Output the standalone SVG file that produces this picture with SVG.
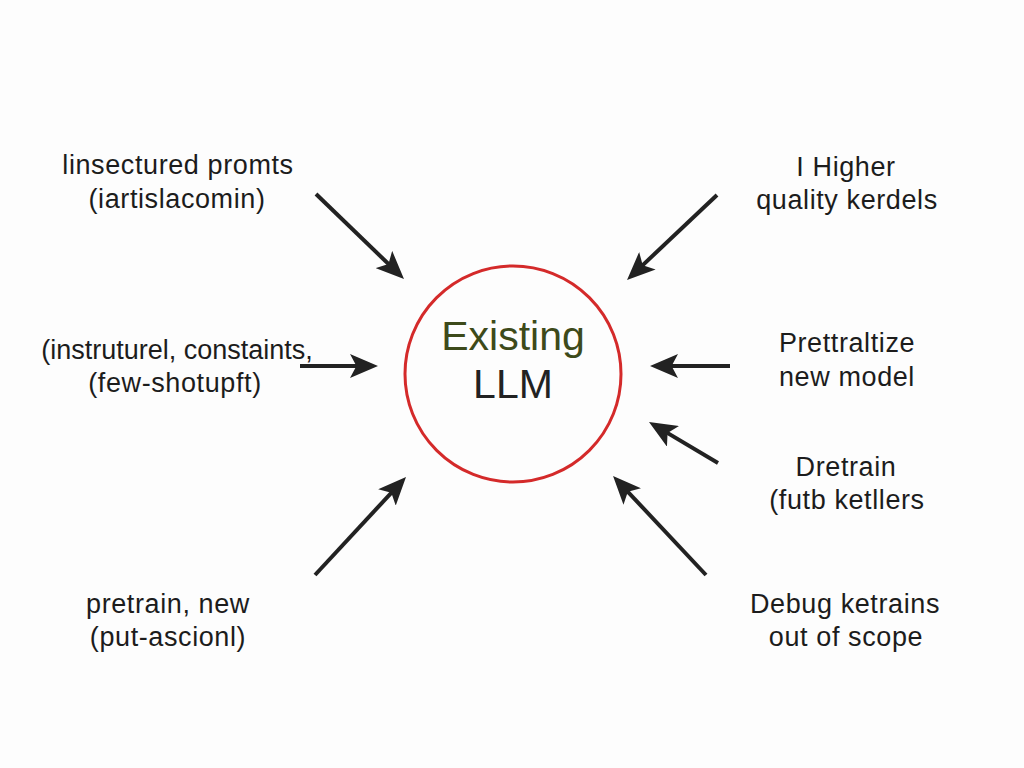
<svg xmlns="http://www.w3.org/2000/svg" width="1024" height="768" viewBox="0 0 1024 768">
<style>
.lbl{font-family:"Liberation Sans",Arial,sans-serif;font-size:27px;letter-spacing:0.6px;fill:#1c1c1c;text-anchor:middle}
.tight{letter-spacing:0}
.ctr{font-family:"Liberation Sans",Arial,sans-serif;font-size:41px;text-anchor:middle}
.arr{stroke:#222;stroke-width:4;fill:none;marker-end:url(#ah)}
</style>
<defs>
<marker id="ah" viewBox="0 0 7 6" markerWidth="7" markerHeight="6" refX="4.5" refY="3" orient="auto" markerUnits="strokeWidth">
<path d="M0,0 L7,3 L0,6 L1.6,3 z" fill="#222"/>
</marker>
</defs>
<rect width="1024" height="768" fill="#fdfdfd"/>
<g id="llm">
<circle cx="513" cy="374" r="108" fill="none" stroke="#d42a2a" stroke-width="3"/>
<text class="ctr" x="513" y="350" fill="#3d4a1a">Existing</text>
<text class="ctr" x="513" y="398" fill="#222">LLM</text>
</g>
<g id="n-tl"><text class="lbl" x="178" y="174">linsectured promts</text><text class="lbl" x="177" y="208">(iartislacomin)</text></g>
<g id="n-tr"><text class="lbl" x="846" y="176">I Higher</text><text class="lbl" x="847" y="209">quality kerdels</text></g>
<g id="n-ml"><text class="lbl tight" x="177" y="359">(instruturel, constaints,</text><text class="lbl" x="175" y="392">(few-shotupft)</text></g>
<g id="n-mr"><text class="lbl" x="847" y="352">Prettraltize</text><text class="lbl" x="847" y="386">new model</text></g>
<g id="n-r2"><text class="lbl" x="846" y="476">Dretrain</text><text class="lbl" x="847" y="509">(futb ketllers</text></g>
<g id="n-bl"><text class="lbl" x="168" y="613">pretrain, new</text><text class="lbl" x="168" y="646">(put-ascionl)</text></g>
<g id="n-br"><text class="lbl" x="845" y="613">Debug ketrains</text><text class="lbl" x="846" y="646">out of scope</text></g>
<g id="connectors">
<line class="arr" x1="316" y1="194" x2="396.8" y2="272"/>
<line class="arr" x1="717" y1="195" x2="634.3" y2="273.1"/>
<line class="arr" x1="300" y1="366" x2="368" y2="366"/>
<line class="arr" x1="730" y1="366" x2="660" y2="366"/>
<line class="arr" x1="718" y1="463" x2="657.6" y2="427.1"/>
<line class="arr" x1="706" y1="575" x2="619.9" y2="483.3"/>
<line class="arr" x1="315" y1="575" x2="399.2" y2="484.3"/>
</g>
</svg>
